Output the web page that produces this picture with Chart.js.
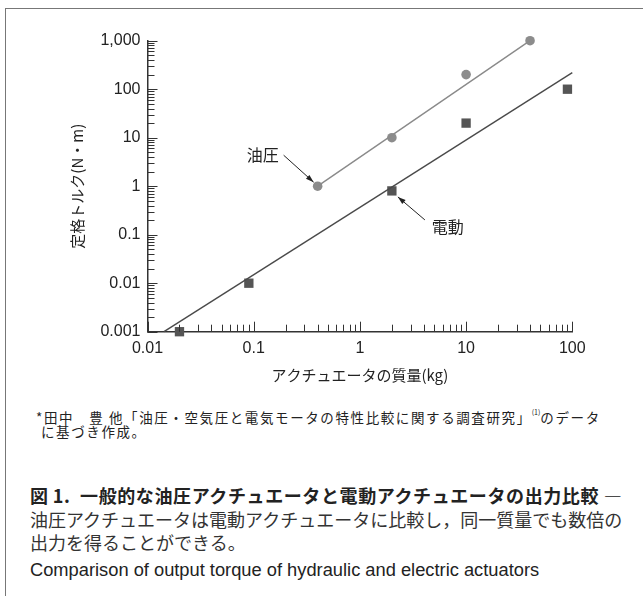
<!DOCTYPE html>
<html lang="ja">
<head>
<meta charset="UTF-8">
<title>油圧アクチュエータと電動アクチュエータの出力比較</title>
<script src="https://cdn.jsdelivr.net/npm/chart.js@4.4.0/dist/chart.umd.min.js"></script>
<style>
    body {
        margin: 0;
        width: 643px;
        height: 596px;
        position: relative;
        overflow: hidden;
        background: #fff;
        font-family: "Noto Sans CJK JP", sans-serif;
        color: #222;
    }
    .frame {
        position: absolute;
        left: 5px;
        top: 8px;
        width: 700px;
        height: 700px;
        border-left: 1.5px solid #777;
        border-top: 1.5px solid #777;
    }
    #chart {
        position: absolute;
        left: 0;
        top: 0;
    }
    .txt {
        position: absolute;
        white-space: nowrap;
    }
    .note { font-size: 13.5px; line-height: 16px; letter-spacing: 1.6px; }
    .note sup { font-size: 7px; position: relative; top: -2px; letter-spacing: 0; }
    .cap-bold { font-size: 18px; line-height: 20px; font-weight: bold; letter-spacing: 0.6px; }
    .cap { font-size: 18px; line-height: 20px; color: #333; }
    .cap-en { font-family: "Liberation Sans", Arial, sans-serif; font-size: 18.3px; line-height: 20px; }
</style>
</head>
<body>
<div class="frame"></div>
<canvas id="chart" width="643" height="400"></canvas>

<div class="txt note" style="left:36px; top:406px;">*田中　豊 他「油圧・空気圧と電気モータの特性比較に関する調査研究」<sup>(1)</sup>のデータ</div>
<div class="txt note" style="left:41px; top:423px;">に基づき作成。</div>
<div class="txt cap-bold" style="left:30px; top:485px;">図&thinsp;1.&ensp;一般的な油圧アクチュエータと電動アクチュエータの出力比較 —</div>
<div class="txt cap" style="left:30px; top:509px;">油圧アクチュエータは電動アクチュエータに比較し，同一質量でも数倍の</div>
<div class="txt cap" style="left:30px; top:532px;">出力を得ることができる。</div>
<div class="txt cap-en" style="left:30px; top:560px;">Comparison of output torque of hydraulic and electric actuators</div>

<script>
    // measured points (mass kg, torque N·m)
    const hydraulicMass = [0.4, 2, 10, 40];
    const hydraulicTorque = [1, 10, 200, 1000];
    const electricMass = [0.02, 0.09, 2, 10, 90];
    const electricTorque = [0.001, 0.01, 0.8, 20, 100];

    // trend lines
    const hydraulicFitMass = [0.4, 40];
    const hydraulicFitTorque = [1, 1000];
    const electricFitMass = [0.0143, 100];
    const electricFitTorque = [0.001, 220];

    // axis ticks
    const xTickValues = [0.01, 0.1, 1, 10, 100];
    const xTickLabels = ['0.01', '0.1', '1', '10', '100'];
    const yTickValues = [0.001, 0.01, 0.1, 1, 10, 100, 1000];
    const yTickLabels = ['0.001', '0.01', '0.1', '1', '10', '100', '1,000'];

    const toPoints = (xs, ys) => xs.map((x, i) => ({ x: x, y: ys[i] }));

    const tickFont = { family: '"Liberation Sans", Arial, sans-serif', size: 16 };
    const titleFont = { family: '"Noto Sans CJK JP", sans-serif', size: 15 };

    // small inward log ticks (1..9 each decade) along both axes
    const logTicks = {
        id: 'logTicks',
        afterDraw(chart) {
            const { ctx, chartArea, scales: { x, y } } = chart;
            ctx.save();
            ctx.strokeStyle = '#333';
            ctx.lineWidth = 1;
            ctx.beginPath();
            for (let e = -2; e <= 2; e++) {
                for (let k = 1; k <= 9; k++) {
                    const v = k * Math.pow(10, e);
                    if (v > 100 * 1.0001) continue;
                    const px = Math.round(x.getPixelForValue(v)) + 0.5;
                    const len = k === 1 ? 10 : 7;
                    ctx.moveTo(px, chartArea.bottom);
                    ctx.lineTo(px, chartArea.bottom - len);
                }
            }
            for (let e = -3; e <= 3; e++) {
                for (let k = 1; k <= 9; k++) {
                    const v = k * Math.pow(10, e);
                    if (v > 1000 * 1.0001) continue;
                    const py = Math.round(y.getPixelForValue(v)) + 0.5;
                    const len = k === 1 ? 10 : 7;
                    ctx.moveTo(chartArea.left, py);
                    ctx.lineTo(chartArea.left + len, py);
                }
            }
            ctx.stroke();
            ctx.restore();
        }
    };

    // callout labels with arrows, anchored to a data point
    const callouts = [
        { text: '油圧', mass: hydraulicMass[0], torque: hydraulicTorque[0], tip: [-4, -4], tail: [-34, -31], label: [-55, -31] },
        { text: '電動', mass: electricMass[2], torque: electricTorque[2], tip: [6, 6], tail: [33, 29], label: [56, 36] }
    ];

    const calloutPlugin = {
        id: 'callouts',
        afterDatasetsDraw(chart) {
            const { ctx, scales: { x, y } } = chart;
            ctx.save();
            callouts.forEach(c => {
                const px = x.getPixelForValue(c.mass);
                const py = y.getPixelForValue(c.torque);
                const tx = px + c.tip[0], ty = py + c.tip[1];
                const sx = px + c.tail[0], sy = py + c.tail[1];
                ctx.strokeStyle = '#222';
                ctx.fillStyle = '#222';
                ctx.lineWidth = 1;
                ctx.beginPath();
                ctx.moveTo(sx, sy);
                ctx.lineTo(tx, ty);
                ctx.stroke();
                const a = Math.atan2(ty - sy, tx - sx);
                ctx.beginPath();
                ctx.moveTo(tx, ty);
                ctx.lineTo(tx - 8 * Math.cos(a) + 2.6 * Math.sin(a), ty - 8 * Math.sin(a) - 2.6 * Math.cos(a));
                ctx.lineTo(tx - 8 * Math.cos(a) - 2.6 * Math.sin(a), ty - 8 * Math.sin(a) + 2.6 * Math.cos(a));
                ctx.closePath();
                ctx.fill();
                ctx.font = '16px "Noto Sans CJK JP", sans-serif';
                ctx.textAlign = 'center';
                ctx.textBaseline = 'middle';
                ctx.fillText(c.text, px + c.label[0], py + c.label[1]);
            });
            ctx.restore();
        }
    };

    const ctx = document.getElementById('chart').getContext('2d');
    new Chart(ctx, {
        type: 'scatter',
        data: {
            datasets: [
                {
                    label: '油圧 傾向',
                    data: toPoints(hydraulicFitMass, hydraulicFitTorque),
                    showLine: true,
                    borderColor: '#8a8a8a',
                    borderWidth: 1.4,
                    pointRadius: 0,
                    clip: false
                },
                {
                    label: '電動 傾向',
                    data: toPoints(electricFitMass, electricFitTorque),
                    showLine: true,
                    borderColor: '#4a4a4a',
                    borderWidth: 1.4,
                    pointRadius: 0,
                    clip: false
                },
                {
                    label: '油圧',
                    data: toPoints(hydraulicMass, hydraulicTorque),
                    pointStyle: 'circle',
                    pointRadius: 4.8,
                    backgroundColor: '#8c8c8c',
                    borderWidth: 0,
                    clip: false
                },
                {
                    label: '電動',
                    data: toPoints(electricMass, electricTorque),
                    pointStyle: 'rect',
                    pointRadius: 6.6,
                    backgroundColor: '#555',
                    borderWidth: 0,
                    clip: false
                }
            ]
        },
        options: {
            responsive: false,
            animation: false,
            layout: { padding: { left: 0, top: 40.7, right: 70.7, bottom: 0 } },
            plugins: {
                legend: { display: false },
                tooltip: { enabled: false }
            },
            scales: {
                x: {
                    type: 'logarithmic',
                    min: 0.01,
                    max: 100,
                    afterBuildTicks: s => { s.ticks = xTickValues.map(v => ({ value: v })); },
                    afterFit: s => { s.height = 68.3; },
                    ticks: {
                        autoSkip: false,
                        maxRotation: 0,
                        padding: 7,
                        color: '#222',
                        font: tickFont,
                        callback: (v, i) => xTickLabels[i]
                    },
                    grid: { display: false, drawTicks: false },
                    border: { display: true, color: '#333', width: 1.5 },
                    title: {
                        display: true,
                        text: 'アクチュエータの質量(kg)',
                        color: '#222',
                        font: titleFont,
                        padding: { top: 0, bottom: 16 }
                    }
                },
                y: {
                    type: 'logarithmic',
                    min: 0.001,
                    max: 1000,
                    afterBuildTicks: s => { s.ticks = yTickValues.map(v => ({ value: v })); },
                    afterFit: s => { s.width = 147.5; },
                    ticks: {
                        autoSkip: false,
                        padding: 7,
                        color: '#222',
                        font: tickFont,
                        callback: (v, i) => yTickLabels[i]
                    },
                    grid: { display: false, drawTicks: false },
                    border: { display: true, color: '#333', width: 1.5 },
                    title: {
                        display: true,
                        text: '定格トルク(N・m)',
                        color: '#222',
                        font: titleFont,
                        padding: { top: 68, bottom: 0 }
                    }
                }
            }
        },
        plugins: [logTicks, calloutPlugin]
    });
</script>
</body>
</html>
